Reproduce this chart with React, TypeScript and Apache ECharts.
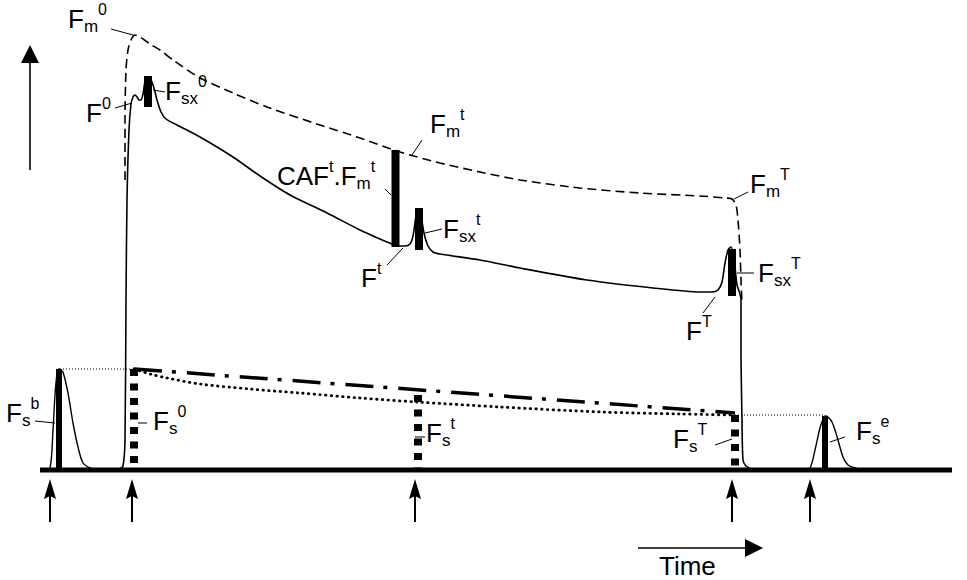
import React, { useEffect, useRef } from "react";
import * as echarts from "echarts";

// ---- Data (time units on x, relative fluorescence on y; 0 = baseline) ----
const fluorescenceF: [number, number][] = [
  [110, 0], [119, 1], [123, 4], [125, 30], [126, 170], [127, 270], [129, 340], [131, 366],
  [133, 373], [135, 375], [137, 373], [139, 370], [141, 370], [143, 376], [145, 388],
  [148, 393], [151, 390], [154, 382], [157, 370], [161, 358], [166, 351], [177, 345],
  [200, 333], [233, 313], [260, 294], [290, 275], [327, 257], [360, 240], [380, 231],
  [392, 226], [400, 224], [405, 224], [410, 226], [413, 234], [416, 254], [418, 261],
  [421, 254], [424, 237], [428, 224], [433, 218], [440, 216], [480, 210], [520, 202],
  [587, 190], [653, 182], [700, 178], [712, 178], [718, 180], [722, 188], [725, 207],
  [728, 220], [731, 223], [734, 212], [737, 185], [740, 176], [741, 170], [741, 120],
  [742, 50], [743, 10], [746, 4], [752, 1], [762, 0],
];

const fluorescenceFm: [number, number][] = [
  [125, 290], [125, 350], [126, 400], [128, 420], [131, 430], [135, 435], [140, 433],
  [150, 426], [160, 420], [173, 410], [200, 392], [233, 377], [267, 363], [320, 345],
  [360, 332], [400, 318], [440, 307], [480, 298], [520, 290], [580, 282], [640, 277],
  [700, 274], [725, 272], [732, 271], [736, 265], [738, 250], [740, 220], [741, 190],
  [742, 167],
];

const fsBefore: [number, number][] = [
  [44, 0], [50, 2], [53, 40], [55, 75], [57, 96], [59, 101], [61, 100], [63, 98],
  [68, 77], [73, 47], [78, 23], [83, 7], [90, 2], [98, 0],
];

const fsAfter: [number, number][] = [
  [804, 0], [810, 2], [815, 20], [820, 42], [824, 53], [826, 54], [829, 52], [832, 48],
  [835, 40], [838, 30], [843, 13], [848, 5], [855, 2], [864, 0],
];

const fsLinearTrend: [number, number][] = [[134, 101], [735, 57]];

const fsCurvedTrend: [number, number][] = [
  [134, 101], [150, 96], [167, 92], [200, 86], [250, 81], [300, 77], [360, 72],
  [417, 68], [500, 63], [600, 58], [680, 56], [733, 55],
];

const fsRefLeft: [number, number][] = [[60, 101], [131, 101]];
const fsRefRight: [number, number][] = [[735, 55], [823, 55]];

const timeBaseline: [number, number][] = [[40, 0], [952, 0]];

// saturating flashes: [time, top, bottom]
const satFlashBars: number[][] = [
  [148, 394, 363],
  [395.5, 320, 223],
  [419, 262, 220],
  [732, 221, 174],
];
// steady-state measurement bars: [time, top, bottom]
const fsBars: number[][] = [
  [59, 101, 0],
  [825, 54, 0],
];
// Fs markers (square-dotted): [time, top, bottom]
const fsMarkers: number[][] = [
  [134, 101, 2],
  [418, 75, 2],
  [735, 55, 2],
];

// pulse arrows: [xTail, yTail, xTip, yTip]
const pulseArrows: number[][] = [
  [50, -52, 50, -9],
  [132, -52, 132, -9],
  [415, -52, 415, -9],
  [732, -52, 732, -9],
  [810, -52, 810, -9],
];
const axisArrows: number[][] = [
  [30, 300, 30, 425],
  [638, -78, 763, -78],
];

// leader lines: [x1, y1, x2, y2]
const leaders: number[][] = [
  [111, 441, 133, 435],
  [115, 362, 132, 367],
  [153, 380, 165, 378],
  [422, 330, 412, 315],
  [385, 281, 391, 275],
  [387, 205, 403, 222],
  [425, 237, 442, 241],
  [734, 271, 748, 278],
  [737, 197, 754, 197],
  [703, 157, 715, 173],
  [35, 49, 55, 47],
  [138, 47, 147, 47],
  [415, 33, 425, 33],
  [715, 25, 732, 31],
  [830, 28, 845, 33],
];

type Part = [string, "n" | "sub" | "sup"];
const labelTexts: Part[][] = [
  [["F", "n"], ["m", "sub"], ["0", "sup"]],
  [["F", "n"], ["0", "sup"]],
  [["F", "n"], ["sx", "sub"], ["0", "sup"]],
  [["F", "n"], ["m", "sub"], ["t", "sup"]],
  [["CAF", "n"], ["t", "sup"], [".F", "n"], ["m", "sub"], ["t", "sup"]],
  [["F", "n"], ["t", "sup"]],
  [["F", "n"], ["sx", "sub"], ["t", "sup"]],
  [["F", "n"], ["m", "sub"], ["T", "sup"]],
  [["F", "n"], ["sx", "sub"], ["T", "sup"]],
  [["F", "n"], ["T", "sup"]],
  [["F", "n"], ["s", "sub"], ["b", "sup"]],
  [["F", "n"], ["s", "sub"], ["0", "sup"]],
  [["F", "n"], ["s", "sub"], ["t", "sup"]],
  [["F", "n"], ["s", "sub"], ["T", "sup"]],
  [["F", "n"], ["s", "sub"], ["e", "sup"]],
  [["Time", "n"]],
];
// label anchor: [left x px, baseline y px]
const labelAnchors: [number, number][] = [
  [68, 28], [86, 122], [165, 100], [430, 133], [277, 185], [361, 287], [443, 238],
  [750, 193], [758, 282], [686, 340], [6, 422], [153, 430], [426, 442], [673, 448],
  [856, 440], [659, 575],
];

const FONT = '"Liberation Sans", Arial, Helvetica, sans-serif';
const SIZE_MAIN = 26;
const SIZE_SUB = 17;
const SIZE_SUP = 16;

export default function App() {
  const ref = useRef<HTMLDivElement>(null);

  useEffect(() => {
    document.body.style.margin = "0";
    if (!ref.current) return;
    const chart = echarts.init(ref.current, undefined, { renderer: "svg" });

    const canvas = document.createElement("canvas");
    const ctx = canvas.getContext("2d")!;
    const measure = (t: string, size: number) => {
      ctx.font = `${size}px ${FONT}`;
      return ctx.measureText(t).width;
    };

    const graphics: any[] = [];
    labelTexts.forEach((parts, i) => {
      let [x, base] = labelAnchors[i];
      parts.forEach(([t, kind]) => {
        const size = kind === "n" ? SIZE_MAIN : kind === "sub" ? SIZE_SUB : SIZE_SUP;
        const bl = kind === "n" ? base : kind === "sub" ? base + 4 : base - 13;
        graphics.push({
          type: "text",
          x,
          y: bl - 0.3465 * size,
          style: {
            text: t,
            fontSize: size,
            fontFamily: FONT,
            fill: "#000",
            verticalAlign: "middle",
            align: "left",
          },
          z: 100,
        });
        x += measure(t, size);
      });
    });

    const barSeries = (data: number[][], width: number) => ({
      type: "custom",
      data,
      z: 5,
      renderItem: (_p: any, api: any) => {
        const a = api.coord([api.value(0), api.value(1)]);
        const b = api.coord([api.value(0), api.value(2)]);
        return {
          type: "rect",
          shape: { x: a[0] - width / 2, y: a[1], width, height: b[1] - a[1] },
          style: { fill: "#000" },
        };
      },
    });

    const arrowSeries = (data: number[][], len: number, half: number, notch: number, lw: number) => ({
      type: "custom",
      data,
      z: 6,
      renderItem: (_p: any, api: any) => {
        const a = api.coord([api.value(0), api.value(1)]);
        const b = api.coord([api.value(2), api.value(3)]);
        const dx = b[0] - a[0];
        const dy = b[1] - a[1];
        const d = Math.sqrt(dx * dx + dy * dy);
        const ux = dx / d;
        const uy = dy / d;
        const px = -uy;
        const py = ux;
        const baseX = b[0] - ux * len;
        const baseY = b[1] - uy * len;
        const nX = b[0] - ux * (len - notch);
        const nY = b[1] - uy * (len - notch);
        return {
          type: "group",
          children: [
            {
              type: "line",
              shape: { x1: a[0], y1: a[1], x2: nX, y2: nY },
              style: { stroke: "#000", lineWidth: lw },
            },
            {
              type: "polygon",
              shape: {
                points: [
                  [b[0], b[1]],
                  [baseX + px * half, baseY + py * half],
                  [nX, nY],
                  [baseX - px * half, baseY - py * half],
                ],
              },
              style: { fill: "#000" },
            },
          ],
        };
      },
    });

    const lineSeries = (data: [number, number][], lineStyle: any, smooth: number | boolean = false, z = 3) => ({
      type: "line",
      data,
      symbol: "none",
      showSymbol: false,
      smooth,
      z,
      lineStyle: { color: "#000", ...lineStyle },
      silent: true,
    });

    chart.setOption({
      animation: false,
      backgroundColor: "#fff",
      grid: { left: 0, right: 0, top: 0, bottom: 0, containLabel: false },
      xAxis: { type: "value", min: 0, max: 967, show: false },
      yAxis: { type: "value", min: -110, max: 470, show: false },
      graphic: graphics,
      series: [
        lineSeries(timeBaseline, { width: 5 }, false, 4),
        lineSeries(fluorescenceF, { width: 1.6 }, 0.25),
        lineSeries(fluorescenceFm, { width: 1.6, type: [9, 5] }, 0.25),
        lineSeries(fsBefore, { width: 1.4 }, 0.3),
        lineSeries(fsAfter, { width: 1.4 }, 0.3),
        lineSeries(fsLinearTrend, { width: 3.5, type: [28, 10, 4, 11] }),
        lineSeries(fsCurvedTrend, { width: 2.8, type: [0.5, 5.2], cap: "round" }, 0.3),
        lineSeries(fsRefLeft, { width: 1, type: [1, 2] }),
        lineSeries(fsRefRight, { width: 1, type: [1, 2] }),
        {
          type: "custom",
          data: fsMarkers,
          z: 5,
          renderItem: (_p: any, api: any) => {
            const a = api.coord([api.value(0), api.value(1)]);
            const b = api.coord([api.value(0), api.value(2)]);
            return {
              type: "line",
              shape: { x1: a[0], y1: a[1], x2: b[0], y2: b[1] },
              style: { stroke: "#000", lineWidth: 8, lineDash: [7, 7.5] },
            };
          },
        },
        barSeries(satFlashBars, 8),
        barSeries(fsBars, 6),
        arrowSeries(pulseArrows, 20, 6, 3, 2),
        arrowSeries(axisArrows, 18, 9, 0, 1.6),
        {
          type: "custom",
          data: leaders,
          z: 6,
          renderItem: (_p: any, api: any) => {
            const a = api.coord([api.value(0), api.value(1)]);
            const b = api.coord([api.value(2), api.value(3)]);
            return {
              type: "line",
              shape: { x1: a[0], y1: a[1], x2: b[0], y2: b[1] },
              style: { stroke: "#000", lineWidth: 1 },
            };
          },
        },
      ],
    });

    return () => chart.dispose();
  }, []);

  return (
    <div
      ref={ref}
      style={{ position: "absolute", left: 0, top: 0, width: 967, height: 580 }}
    />
  );
}
